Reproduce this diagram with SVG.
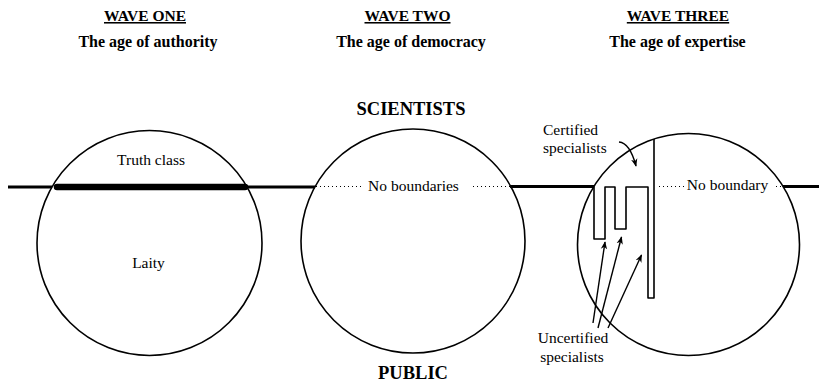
<svg xmlns="http://www.w3.org/2000/svg" width="819" height="383" viewBox="0 0 819 383">
<defs>
<style>
text{font-family:"Liberation Serif","Times New Roman",serif;fill:#000}
.h{font-weight:bold;font-size:15.5px;text-anchor:middle;text-decoration:underline}
.s{font-weight:bold;font-size:16px;text-anchor:middle}
.b{font-weight:bold;font-size:18.5px;text-anchor:middle}
.l{font-size:15.5px}
.c{fill:none;stroke:#000;stroke-width:1.6}
.ln{fill:none;stroke:#000;stroke-width:3}
.dot{fill:none;stroke:#000;stroke-width:1;stroke-dasharray:1 3}
.ar{fill:none;stroke:#000;stroke-width:1.4;marker-end:url(#ah)}
</style>
<marker id="ah" viewBox="0 0 10 10" refX="9" refY="5" markerWidth="8" markerHeight="8" markerUnits="userSpaceOnUse" orient="auto">
<path d="M0,1 L10,5 L0,9 L3,5 Z" fill="#000"/>
</marker>
</defs>
<rect width="819" height="383" fill="#fff"/>

<g id="headings">
<text class="h" x="145" y="21">WAVE ONE</text>
<text class="s" x="148" y="47">The age of authority</text>
<text class="h" x="407.5" y="21">WAVE TWO</text>
<text class="s" x="411" y="47">The age of democracy</text>
<text class="h" x="678" y="21">WAVE THREE</text>
<text class="s" x="677.5" y="47">The age of expertise</text>
</g>

<g id="scientists"><text class="b" x="411" y="115">SCIENTISTS</text></g>
<g id="public"><text class="b" x="413" y="379">PUBLIC</text></g>

<g id="connectors">
<path class="ln" d="M8,187 H52"/>
<path class="ln" d="M247,187 H315"/>
<path class="ln" d="M510,186.5 H594"/>
<path class="ln" d="M783,186.5 H819"/>
</g>

<g id="wave-one">
<circle class="c" cx="149.5" cy="243" r="112.5"/>
<path d="M57,187 H245" stroke="#000" stroke-width="6.5" stroke-linecap="round"/>
<text class="l" x="151" y="165" text-anchor="middle">Truth class</text>
<text class="l" x="148.5" y="268" text-anchor="middle">Laity</text>
</g>

<g id="wave-two">
<circle class="c" cx="413" cy="241" r="112"/>
<path class="dot" d="M316,186.5 H364 M473,186.5 H510"/>
<text class="l" x="413.5" y="191" text-anchor="middle">No boundaries</text>
</g>

<g id="wave-three">
<circle class="c" cx="688.5" cy="244.5" r="111"/>
<path class="c" d="M594,186.5 V239 H605 V187 H615 V229 H626 V187 H648 V298 H654 V139" stroke-linejoin="round"/>
<path class="dot" d="M659,186.5 H684 M776,186.5 H781"/>
<text class="l" x="727.5" y="190" text-anchor="middle">No boundary</text>
<text class="l" x="543" y="135">Certified</text>
<text class="l" x="543" y="153">specialists</text>
<path class="ar" d="M619,142 Q630,143 636,166"/>
<path class="ar" d="M593,323 L605,242"/>
<path class="ar" d="M598,328 L621.5,237"/>
<path class="ar" d="M608,328 L641.5,255"/>
<text class="l" x="573" y="343" text-anchor="middle">Uncertified</text>
<text class="l" x="572" y="362" text-anchor="middle">specialists</text>
</g>
</svg>
